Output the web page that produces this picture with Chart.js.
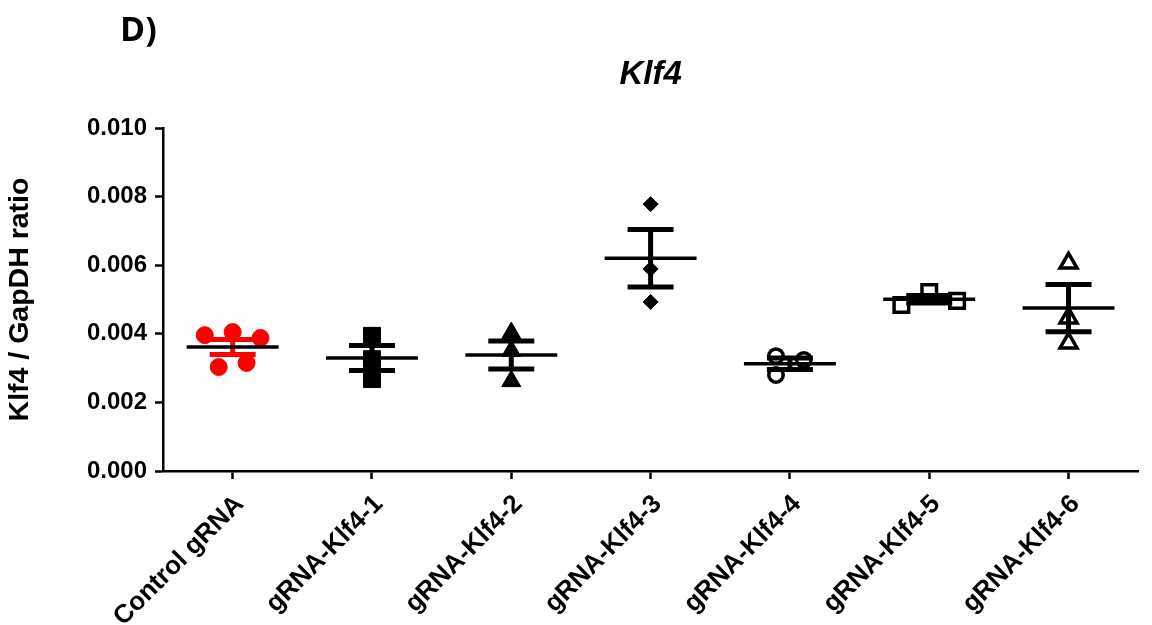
<!DOCTYPE html>
<html>
<head>
<meta charset="utf-8">
<script src="https://cdn.jsdelivr.net/npm/chart.js@4.4.0/dist/chart.umd.min.js"></script>
<style>
  html, body { margin: 0; padding: 0; background: #fff; }
  #wrap { position: relative; width: 1152px; height: 625px; }
  #panel { position: absolute; left: 120px; top: 5px; font: bold 34px 'Open Sans', sans-serif; color: #000; }
</style>
</head>
<body>
<div id="wrap">
  <canvas id="myChart" width="1152" height="625"></canvas>
  <div id="panel">D)</div>
</div>
<script>
const categories = ['Control gRNA', 'gRNA-Klf4-1', 'gRNA-Klf4-2', 'gRNA-Klf4-3', 'gRNA-Klf4-4', 'gRNA-Klf4-5', 'gRNA-Klf4-6'];
const yTicks = [0.000, 0.002, 0.004, 0.006, 0.008, 0.010];

// Klf4 / GapDH ratio, one value per replicate
const control = [0.00405, 0.00388, 0.00396, 0.00303, 0.00315];
const klf4_1 = [0.00394, 0.00326, 0.00268];
const klf4_2 = [0.00402, 0.00350, 0.00262];
const klf4_3 = [0.00778, 0.00589, 0.00493];
const klf4_4 = [0.00335, 0.00324, 0.00280];
const klf4_5 = [0.00522, 0.00496, 0.00484];
const klf4_6 = [0.00606, 0.00446, 0.00373];

const groups = [control, klf4_1, klf4_2, klf4_3, klf4_4, klf4_5, klf4_6];

const FONT = "'Liberation Sans', Arial, sans-serif";

// marker look for each group
const markers = [
    { pointStyle: 'circle', pointRadius: 8.5, pointBackgroundColor: '#ff0000', pointBorderColor: '#ff0000', pointBorderWidth: 1 },
    { pointStyle: 'rect', pointRadius: 12, pointBackgroundColor: '#000', pointBorderColor: '#000', pointBorderWidth: 1 },
    { pointStyle: 'triangle', pointRadius: 11, pointBackgroundColor: '#000', pointBorderColor: '#000', pointBorderWidth: 1 },
    { pointStyle: 'rectRot', pointRadius: 7.5, pointBackgroundColor: '#000', pointBorderColor: '#000', pointBorderWidth: 1 },
    { pointStyle: 'circle', pointRadius: 7.2, pointBackgroundColor: '#fff', pointBorderColor: '#000', pointBorderWidth: 3.5 },
    { pointStyle: 'rect', pointRadius: 10.3, pointBackgroundColor: '#fff', pointBorderColor: '#000', pointBorderWidth: 3.5 },
    { pointStyle: 'triangle', pointRadius: 9.8, pointBackgroundColor: '#fff', pointBorderColor: '#000', pointBorderWidth: 3.5 }
];
const barColors = ['#ff0000', '#000', '#000', '#000', '#000', '#000', '#000'];

// points that would sit on top of each other get pushed sideways,
// then every bunch of touching points is centred on its column (prism style)
function spread(values) {
    const near = 0.00048; // about one marker high
    const slot = 0.1;
    const pos = [];
    values.forEach((v, i) => {
        const tries = [0, 2, -2, 4, -4, 6, -6];
        pos[i] = tries.find(t => !values.slice(0, i).some((w, j) =>
            Math.abs(w - v) < near && Math.abs(pos[j] - t) < 2));
    });
    const bunch = values.map((v, i) => i);
    for (let i = 0; i < values.length; i++) {
        for (let j = i + 1; j < values.length; j++) {
            if (Math.abs(values[i] - values[j]) < near) {
                const a = bunch[i], b = bunch[j];
                bunch.forEach((l, k) => { if (l === b) bunch[k] = a; });
            }
        }
    }
    const out = [];
    values.forEach((v, i) => {
        const mine = pos.filter((p, k) => bunch[k] === bunch[i]);
        const shift = (Math.min(...mine) + Math.max(...mine)) / 2;
        out[i] = (pos[i] - shift) * slot;
    });
    return out;
}

const datasets = groups.map((vals, g) => {
    const off = spread(vals);
    return Object.assign({
        label: categories[g],
        data: vals.map((v, i) => ({ x: g + off[i], y: v }))
    }, markers[g]);
});

function stats(vals) {
    const n = vals.length;
    const mean = vals.reduce((a, b) => a + b, 0) / n;
    const sd = Math.sqrt(vals.reduce((a, b) => a + (b - mean) * (b - mean), 0) / (n - 1));
    return { mean: mean, sem: sd / Math.sqrt(n) };
}

// mean line + SEM whiskers on top of the points
const meanSem = {
    id: 'meanSem',
    afterDatasetsDraw(chart) {
        const { ctx, scales: { x, y } } = chart;
        groups.forEach((vals, g) => {
            const s = stats(vals);
            const cx = x.getPixelForValue(g);
            const capW = x.getPixelForValue(g + 0.165) - cx;
            const meanW = x.getPixelForValue(g + 0.33) - cx;
            const yHi = y.getPixelForValue(s.mean + s.sem);
            const yLo = y.getPixelForValue(s.mean - s.sem);
            const yM = y.getPixelForValue(s.mean);
            ctx.save();
            ctx.strokeStyle = barColors[g];
            ctx.lineWidth = 5;
            ctx.beginPath();
            ctx.moveTo(cx, yHi);
            ctx.lineTo(cx, yLo);
            ctx.moveTo(cx - capW, yHi);
            ctx.lineTo(cx + capW, yHi);
            ctx.moveTo(cx - capW, yLo);
            ctx.lineTo(cx + capW, yLo);
            ctx.stroke();
            ctx.strokeStyle = '#000';
            ctx.lineWidth = 3.5;
            ctx.beginPath();
            ctx.moveTo(cx - meanW, yM);
            ctx.lineTo(cx + meanW, yM);
            ctx.stroke();
            ctx.restore();
        });
    }
};

var ctx = document.getElementById('myChart').getContext('2d');

var myChart = new Chart(ctx, { //eslint-disable-line
    type: 'scatter',
    data: { datasets: datasets },
    plugins: [meanSem],
    options: {
        responsive: false,
        animation: false,
        layout: { padding: { left: 0, right: 9, top: 0, bottom: 0 } },
        plugins: {
            legend: { display: false },
            tooltip: { enabled: false },
            title: {
                display: true,
                text: 'Klf4',
                color: '#000',
                fullSize: false,
                font: { family: FONT, size: 33, weight: 'bold', style: 'italic' },
                padding: { top: 55, bottom: 33.4 }
            }
        },
        scales: {
            x: {
                type: 'linear',
                min: -0.5,
                max: 6.5,
                afterBuildTicks: s => { s.ticks = categories.map((c, i) => ({ value: i })); },
                afterFit: s => { s.height = 154; },
                ticks: {
                    callback: v => categories[v],
                    autoSkip: false,
                    maxRotation: 45,
                    minRotation: 45,
                    color: '#000',
                    padding: 10,
                    labelOffset: 7,
                    font: { family: FONT, size: 26, weight: 'bold' }
                },
                grid: { drawOnChartArea: false, drawTicks: true, tickLength: 8, tickColor: '#000', tickWidth: 2.5 },
                border: { color: '#000', width: 2.5 }
            },
            y: {
                min: 0,
                max: 0.010,
                afterBuildTicks: s => { s.ticks = yTicks.map(v => ({ value: v })); },
                afterFit: s => { s.width = 163; },
                ticks: {
                    callback: v => v.toFixed(3),
                    color: '#000',
                    padding: 8,
                    font: { family: FONT, size: 24, weight: 'bold' }
                },
                grid: { drawOnChartArea: false, drawTicks: true, tickLength: 8, tickColor: '#000', tickWidth: 2.5 },
                border: { color: '#000', width: 2.5 },
                title: {
                    display: true,
                    text: 'Klf4 / GapDH ratio',
                    color: '#000',
                    padding: { top: 3, bottom: 0 },
                    font: { family: FONT, size: 28.5, weight: 'bold' }
                }
            }
        }
    }
});
</script>
</body>
</html>
